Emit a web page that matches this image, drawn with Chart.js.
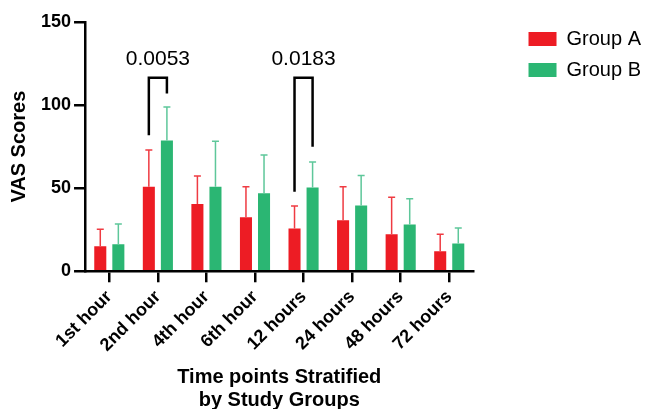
<!DOCTYPE html>
<html>
<head>
<meta charset="utf-8">
<script src="https://cdn.jsdelivr.net/npm/chart.js@4"></script>
<style>
  html, body { margin: 0; background: #fff; }
  #wrap { width: 651px; height: 409px; }
</style>
</head>
<body>
<div id="wrap"><canvas id="myChart"></canvas></div>
<script>
'use strict'
const timePoints = ["1st hour", "2nd hour", "4th hour", "6th hour", "12 hours", "24 hours", "48 hours", "72 hours"]
const groupA = [15, 50.8, 40.5, 32.5, 25.7, 30.7, 22.3, 12]
const groupASD = [10.3, 22.2, 16.9, 18.3, 13.6, 20.1, 22.3, 10.3]
const groupB = [16.3, 78.7, 50.8, 47, 50.4, 39.6, 28.1, 16.7]
const groupBSD = [12.2, 20.1, 27.5, 23, 15.4, 18, 15.5, 9.4]
const yTicks = [0, 50, 100, 150]

// significance brackets
const bracketIndex = [1, 4]
const bracketLabels = ["0.0053", "0.0183"]
const bracketTop = [116.4, 116.4]
const bracketLeftEnd = [81.9, 47.8]
const bracketRightEnd = [107, 74.9]
const bracketLabelY = 127.5

const fontName = '"Liberation Sans", Arial, Helvetica, sans-serif'
const red = '#ED1C24'
const green = '#2BB673'
const redErr = '#EF3B42'
const greenErr = '#5EC79A'

const errorBars = {
    id: 'errorBars',
    afterDatasetsDraw(chart) {
        const ctx = chart.ctx
        const yScale = chart.scales.y
        const sds = [groupASD, groupBSD]
        const cols = [redErr, greenErr]
        ctx.save()
        ctx.lineWidth = 1.5
        for (let d = 0; d < 2; d++) {
            const meta = chart.getDatasetMeta(d)
            const values = chart.data.datasets[d].data
            ctx.strokeStyle = cols[d]
            for (let i = 0; i < meta.data.length; i++) {
                const bar = meta.data[i]
                const top = yScale.getPixelForValue(values[i] + sds[d][i])
                ctx.beginPath()
                ctx.moveTo(bar.x, bar.y)
                ctx.lineTo(bar.x, top)
                ctx.moveTo(bar.x - 3.5, top)
                ctx.lineTo(bar.x + 3.5, top)
                ctx.stroke()
            }
        }
        ctx.restore()
    }
}

const brackets = {
    id: 'brackets',
    afterDatasetsDraw(chart) {
        const ctx = chart.ctx
        const yScale = chart.scales.y
        const metaA = chart.getDatasetMeta(0)
        const metaB = chart.getDatasetMeta(1)
        ctx.save()
        ctx.strokeStyle = '#000'
        ctx.lineWidth = 2.5
        ctx.lineJoin = 'miter'
        ctx.fillStyle = '#000'
        ctx.font = '21px ' + fontName
        ctx.textAlign = 'center'
        ctx.textBaseline = 'middle'
        for (let k = 0; k < bracketIndex.length; k++) {
            const x1 = metaA.data[bracketIndex[k]].x
            const x2 = metaB.data[bracketIndex[k]].x
            const top = yScale.getPixelForValue(bracketTop[k])
            ctx.beginPath()
            ctx.moveTo(x1, yScale.getPixelForValue(bracketLeftEnd[k]))
            ctx.lineTo(x1, top)
            ctx.lineTo(x2, top)
            ctx.lineTo(x2, yScale.getPixelForValue(bracketRightEnd[k]))
            ctx.stroke()
            ctx.fillText(bracketLabels[k], (x1 + x2) / 2, yScale.getPixelForValue(bracketLabelY))
        }
        ctx.restore()
    }
}

const data = {
    labels: timePoints,
    datasets: [{
        label: 'Group A',
        data: groupA,
        backgroundColor: red,
        borderWidth: 0,
        categoryPercentage: 0.744,
        barPercentage: 0.667
    }, {
        label: 'Group B',
        data: groupB,
        backgroundColor: green,
        borderWidth: 0,
        categoryPercentage: 0.744,
        barPercentage: 0.667
    }]
}

const config = {
    type: 'bar',
    data: data,
    options: {
        responsive: true,
        maintainAspectRatio: false,
        animation: false,
        layout: { padding: { top: 18, left: 3, right: 0, bottom: -3 } },
        plugins: {
            tooltip: { enabled: false },
            legend: {
                position: 'right',
                align: 'start',
                maxWidth: 150,
                labels: {
                    boxWidth: 28,
                    boxHeight: 14,
                    padding: 11,
                    color: '#000',
                    font: { family: fontName, size: 20 }
                }
            }
        },
        scales: {
            x: {
                grid: { display: true, offset: false, drawOnChartArea: false, drawTicks: true, tickLength: 11, color: '#000', lineWidth: 2.5 },
                border: { display: true, color: '#000', width: 2.5 },
                ticks: {
                    color: '#000',
                    autoSkip: false,
                    maxRotation: 45,
                    minRotation: 45,
                    padding: 4,
                    font: { family: fontName, size: 18, weight: 'bold' }
                },
                title: {
                    display: true,
                    text: ['Time points Stratified', 'by Study Groups'],
                    color: '#000',
                    padding: { top: 6, bottom: 0 },
                    font: { family: fontName, size: 20, weight: 'bold', lineHeight: 1.15 }
                }
            },
            y: {
                min: 0,
                max: 150,
                afterBuildTicks(scale) {
                    scale.ticks = yTicks.map(v => ({ value: v }))
                },
                grid: { display: true, drawOnChartArea: false, drawTicks: true, tickLength: 11, color: '#000', lineWidth: 2.5 },
                border: { display: true, color: '#000', width: 2.5 },
                ticks: {
                    color: '#000',
                    padding: 3,
                    font: { family: fontName, size: 18, weight: 'bold', lineHeight: 2.11 }
                },
                title: {
                    display: true,
                    text: 'VAS Scores',
                    color: '#000',
                    padding: { top: 4, bottom: 7 },
                    font: { family: fontName, size: 20, weight: 'bold' }
                }
            },
            pad: {
                type: 'linear',
                position: 'right',
                display: true,
                grid: { display: false },
                border: { display: false },
                ticks: { display: false },
                afterFit(scale) { scale.width = 44 }
            }
        }
    },
    plugins: [errorBars, brackets]
}

const myChart = new Chart(document.getElementById('myChart'), config)
</script>
</body>
</html>
